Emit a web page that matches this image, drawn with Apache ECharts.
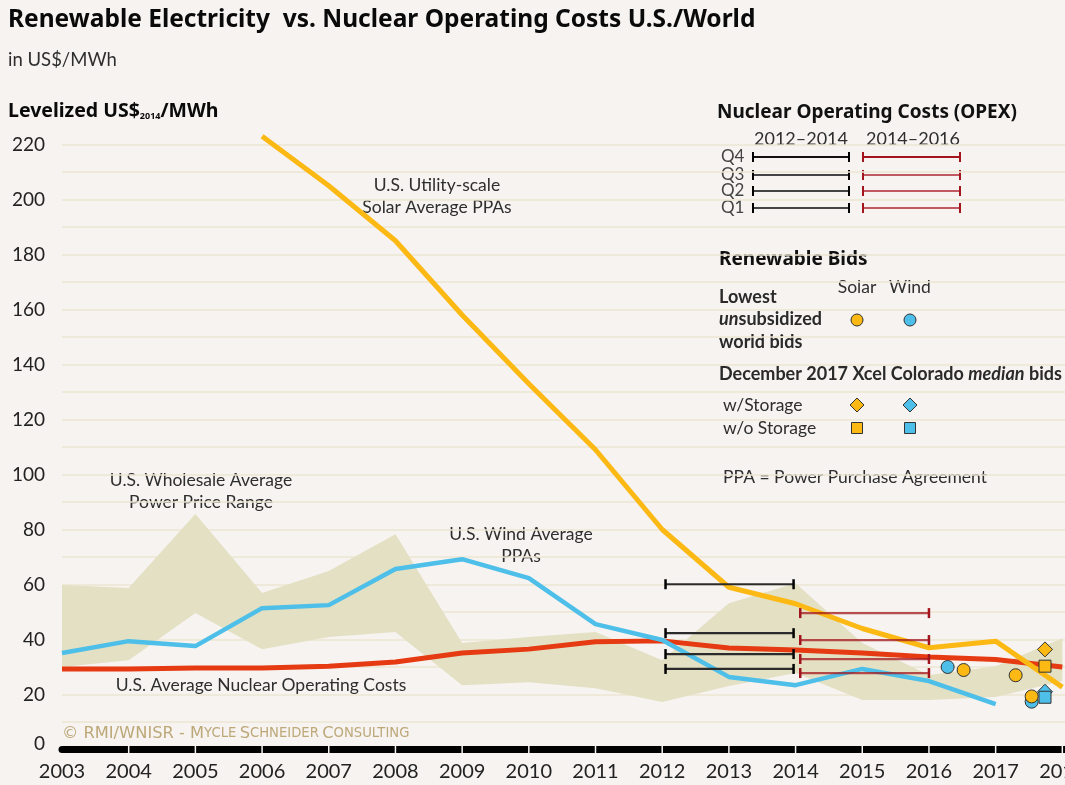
<!DOCTYPE html>
<html>
<head>
<meta charset="utf-8">
<script src="https://cdn.jsdelivr.net/npm/echarts@6/dist/echarts.min.js"></script>
<style>
  html, body { margin: 0; padding: 0; background: #f6f3f1; }
  #chart { width: 1065px; height: 785px; }
</style>
</head>
<body>
<div id="chart"></div>
<script>
// ---- data (US$2014 / MWh) ----
const years = [2003, 2004, 2005, 2006, 2007, 2008, 2009, 2010, 2011, 2012, 2013, 2014, 2015, 2016, 2017, 2018];
const solarPPA      = [null, null, null, 223, 205, 185, 158, 133, 109, 80, 59, 53, 44, 37, 39.4, 22.7];
const windPPA       = [35.1, 39.4, 37.6, 51.4, 52.5, 65.6, 69.2, 62.3, 45.6, 39.8, 26.4, 23.4, 29.3, 24.9, 16.5, null];
const nuclearCost   = [29.3, 29.3, 29.6, 29.6, 30.3, 31.8, 35.1, 36.5, 39.2, 39.5, 36.9, 36.2, 35.1, 33.6, 32.7, 30.0];
const wholesaleHigh = [59.8, 58.7, 85.6, 56.9, 64.9, 78.3, 38.7, 40.9, 42.7, 32.5, 53.2, 60.5, 38.7, 27.1, 30.3, 40.5];
const wholesaleLow  = [30.0, 32.5, 49.6, 36.5, 40.9, 42.7, 23.4, 24.5, 22.3, 17.3, 23.1, 27.8, 18.0, 18.0, 19.1, 24.9];

// nuclear OPEX by quartile, for two periods
const opexQuartiles = ['Q4', 'Q3', 'Q2', 'Q1'];
const opexPeriods = ['2012\u20132014', '2014\u20132016'];
const opexSpan = [[2012.05, 2013.97], [2014.07, 2016.0]];
const opex2012to2014 = [60.1, 42.3, 34.7, 29.3];
const opex2014to2016 = [49.6, 39.8, 32.9, 27.8];

// renewable bids
const solarLowestBids = [[2016.52, 28.9], [2017.30, 27.0], [2017.54, 19.3]];
const windLowestBids  = [[2016.28, 30.0], [2017.54, 17.4]];
const xcelSolarStorage   = [[2017.74, 36.4]];
const xcelSolarNoStorage = [[2017.74, 30.3]];
const xcelWindStorage    = [[2017.74, 21.0]];
const xcelWindNoStorage  = [[2017.74, 19.0]];

const yMax = 220, yStep = 10, yLabelStep = 20;

// ---- styling ----
const FONT = 'Lato';
const HEAD = 'Noto Sans';
const SOLAR = '#fcb813';
const WIND = '#4dbfe8';
const NUCLEAR = '#e63a12';
const RANGE = '#e3e0c3';
const GRIDLINE = '#ece6d2';
const TEXT = '#2e2e2e';

const chart = echarts.init(document.getElementById('chart'), null, { renderer: 'canvas' });

function pairs(vals) { return years.map((y, i) => [y, vals[i]]); }

const opexData = [];
[opex2012to2014, opex2014to2016].forEach((vals, p) => {
  vals.forEach((v, q) => opexData.push([opexSpan[p][0], opexSpan[p][1], v, p, q]));
});

function diamond(cx, cy, r) {
  return [[cx, cy - r], [cx + r, cy], [cx, cy + r], [cx - r, cy]];
}

const txt = (x, y, text, extra) => ({
  type: 'text', x: x, y: y, silent: true,
  style: Object.assign({ text: text, fontFamily: FONT, fontSize: 17.5, fill: TEXT, align: 'left', verticalAlign: 'middle' }, extra || {})
});

const MED = { fontFamily: FONT, fontSize: 18, fontWeight: 'bold', fill: '#2a2a2a' };

const legendGraphics = [
  txt(717, 113, 'Nuclear Operating Costs (OPEX)', { fontFamily: HEAD, fontWeight: 'bold', fontSize: 19, fill: '#111' }),
  txt(801, 139, opexPeriods[0], { align: 'center', fontSize: 18 }),
  txt(913, 139, opexPeriods[1], { align: 'center', fontSize: 18 }),
  txt(719, 260, 'Renewable Bids', { fontFamily: HEAD, fontWeight: 'bold', fontSize: 19, fill: '#111' }),
  txt(857, 287, 'Solar', { align: 'center' }),
  txt(910, 287, 'Wind', { align: 'center' }),
  txt(719, 297, 'Lowest', MED),
  {
    type: 'text', x: 719, y: 319, silent: true,
    style: {
      text: '{i|un}{b|subsidized}', verticalAlign: 'middle', align: 'left',
      rich: { i: Object.assign({}, MED, { fontStyle: 'italic' }), b: MED }
    }
  },
  txt(719, 342, 'world bids', MED),
  {
    type: 'text', x: 719, y: 374, silent: true,
    style: {
      text: '{b|December 2017 Xcel Colorado }{i|median}{b| bids}', verticalAlign: 'middle', align: 'left',
      rich: { i: Object.assign({}, MED, { fontStyle: 'italic' }), b: MED }
    }
  },
  txt(723, 405, 'w/Storage'),
  txt(723, 428, 'w/o Storage'),
  txt(723, 477, 'PPA = Power Purchase Agreement'),
  { type: 'circle', silent: true, shape: { cx: 857, cy: 320, r: 6 }, style: { fill: SOLAR, stroke: '#333', lineWidth: 1 } },
  { type: 'circle', silent: true, shape: { cx: 910, cy: 320, r: 6 }, style: { fill: WIND, stroke: '#333', lineWidth: 1 } },
  { type: 'polygon', silent: true, shape: { points: diamond(857, 405, 7) }, style: { fill: SOLAR, stroke: '#333', lineWidth: 1 } },
  { type: 'polygon', silent: true, shape: { points: diamond(910, 405, 7) }, style: { fill: WIND, stroke: '#333', lineWidth: 1 } },
  { type: 'rect', silent: true, shape: { x: 851.5, y: 422.5, width: 11, height: 11 }, style: { fill: SOLAR, stroke: '#333', lineWidth: 1 } },
  { type: 'rect', silent: true, shape: { x: 904.5, y: 422.5, width: 11, height: 11 }, style: { fill: WIND, stroke: '#333', lineWidth: 1 } }
];

// OPEX legend rows
const legendRowY = [157, 175, 191, 208];
opexQuartiles.forEach((q, i) => {
  const y = legendRowY[i];
  legendGraphics.push(txt(721, y, q, { fontSize: 17, fill: '#444' }));
  const blk = i === 0 ? '#111' : '#444';
  const red = i === 0 ? '#a3151d' : '#c05a62';
  legendGraphics.push({ type: 'line', silent: true, shape: { x1: 753, y1: y, x2: 849, y2: y }, style: { stroke: blk, lineWidth: 2 } });
  legendGraphics.push({ type: 'line', silent: true, shape: { x1: 753, y1: y - 5, x2: 753, y2: y + 5 }, style: { stroke: '#000', lineWidth: 2 } });
  legendGraphics.push({ type: 'line', silent: true, shape: { x1: 849, y1: y - 5, x2: 849, y2: y + 5 }, style: { stroke: '#000', lineWidth: 2 } });
  legendGraphics.push({ type: 'line', silent: true, shape: { x1: 863, y1: y, x2: 960, y2: y }, style: { stroke: red, lineWidth: 2 } });
  legendGraphics.push({ type: 'line', silent: true, shape: { x1: 863, y1: y - 5, x2: 863, y2: y + 5 }, style: { stroke: '#a3151d', lineWidth: 2 } });
  legendGraphics.push({ type: 'line', silent: true, shape: { x1: 960, y1: y - 5, x2: 960, y2: y + 5 }, style: { stroke: '#a3151d', lineWidth: 2 } });
});

const headerGraphics = [
  txt(8, 20, 'Renewable Electricity  vs. Nuclear Operating Costs U.S./World', { fontFamily: HEAD, fontWeight: 'bold', fontSize: 24.5, fill: '#0a0a0a' }),
  txt(8, 60, 'in US$/MWh', { fontSize: 18.5 }),
  {
    type: 'text', x: 8, y: 111, silent: true,
    style: {
      text: '{b|Levelized US$}{s|2014}{b|/MWh}', verticalAlign: 'middle', align: 'left',
      rich: {
        b: { fontFamily: HEAD, fontSize: 19.5, fontWeight: 'bold', fill: '#0a0a0a' },
        s: { fontFamily: HEAD, fontSize: 9, fontWeight: 'bold', fill: '#0a0a0a', verticalAlign: 'bottom', padding: [10, 0, 0, 0] }
      }
    }
  },
  // series annotations
  txt(437, 185, 'U.S. Utility-scale', { align: 'center' }),
  txt(437, 207, 'Solar Average PPAs', { align: 'center' }),
  txt(201, 480, 'U.S. Wholesale Average', { align: 'center' }),
  txt(201, 502, 'Power Price Range', { align: 'center' }),
  txt(521, 534, 'U.S. Wind Average', { align: 'center' }),
  txt(521, 556, 'PPAs', { align: 'center' }),
  txt(261, 685, 'U.S. Average Nuclear Operating Costs', { align: 'center' }),
  {
    type: 'text', x: 62, y: 734, silent: true,
    style: {
      text: '{c|\u00a9 RMI/WNISR - M}{s|YCLE} {c|S}{s|CHNEIDER} {c|C}{s|ONSULTING}', verticalAlign: 'middle', align: 'left',
      rich: {
        c: { fontFamily: 'DejaVu Sans', fontSize: 16.3, fill: '#bda878' },
        s: { fontFamily: 'DejaVu Sans', fontSize: 13.2, fill: '#bda878' }
      }
    }
  }
];

const option = {
  backgroundColor: '#f6f3f1',
  animation: false,
  textStyle: { fontFamily: FONT },
  grid: { left: 62, right: 0, top: 144.5, bottom: 35.5, containLabel: false, outerBoundsMode: 'none' },
  xAxis: {
    type: 'value', min: 2003, max: 2018.04, interval: 1,
    axisLine: { show: true, lineStyle: { color: '#000', width: 7, cap: 'round' } },
    axisTick: { show: false },
    splitLine: { show: false },
    axisLabel: {
      margin: 12, fontSize: 20, color: '#222', fontFamily: FONT,
      formatter: v => (Number.isInteger(v) ? String(v) : '')
    }
  },
  yAxis: {
    type: 'value', min: 0, max: yMax, interval: yStep,
    axisLine: { show: false }, axisTick: { show: false },
    splitLine: { show: true, lineStyle: { color: GRIDLINE, width: 1.5 } },
    axisLabel: {
      margin: 17, fontSize: 19, color: '#222', fontFamily: FONT,
      formatter: v => (v === 0 ? '{z|0}' : (v % yLabelStep === 0 ? String(v) : '')),
      rich: { z: { fontSize: 19, color: '#222', fontFamily: FONT, padding: [0, 0, 12, 0] } }
    }
  },
  graphic: headerGraphics.concat(legendGraphics),
  series: [
    {
      name: 'U.S. Wholesale Average Power Price Range',
      type: 'custom', z: 1, silent: true,
      encode: { x: 0, y: [1, 2] },
      data: years.map((y, i) => [y, wholesaleLow[i], wholesaleHigh[i]]),
      renderItem: (params, api) => {
        if (params.dataIndex !== 0) return null;
        const top = years.map((y, i) => api.coord([y, wholesaleHigh[i]]));
        const bot = years.map((y, i) => api.coord([y, wholesaleLow[i]])).reverse();
        return { type: 'polygon', shape: { points: top.concat(bot) }, style: { fill: RANGE } };
      }
    },
    {
      name: 'U.S. Average Nuclear Operating Costs', type: 'line', z: 3,
      data: pairs(nuclearCost), showSymbol: false, symbol: 'none',
      lineStyle: { color: NUCLEAR, width: 5 }
    },
    {
      name: 'U.S. Wind Average PPAs', type: 'line', z: 4,
      data: pairs(windPPA), showSymbol: false, symbol: 'none',
      lineStyle: { color: WIND, width: 4.5 }
    },
    {
      name: 'U.S. Utility-scale Solar Average PPAs', type: 'line', z: 5, clip: false,
      data: pairs(solarPPA), showSymbol: false, symbol: 'none',
      lineStyle: { color: SOLAR, width: 5 }
    },
    {
      name: 'Nuclear OPEX', type: 'custom', z: 6, silent: true,
      encode: { x: [0, 1], y: 2 },
      data: opexData,
      renderItem: (params, api) => {
        const a = api.coord([api.value(0), api.value(2)]);
        const b = api.coord([api.value(1), api.value(2)]);
        const p = api.value(3);
        const stroke = p === 0 ? '#2b2b2b' : 'rgba(163,21,29,0.75)';
        const cap = p === 0 ? '#000' : '#a3151d';
        return {
          type: 'group', children: [
            { type: 'line', shape: { x1: a[0], y1: a[1], x2: b[0], y2: b[1] }, style: { stroke: stroke, lineWidth: 2.2 } },
            { type: 'line', shape: { x1: a[0], y1: a[1] - 5, x2: a[0], y2: a[1] + 5 }, style: { stroke: cap, lineWidth: 2.5 } },
            { type: 'line', shape: { x1: b[0], y1: b[1] - 5, x2: b[0], y2: b[1] + 5 }, style: { stroke: cap, lineWidth: 2.5 } }
          ]
        };
      }
    },
    {
      name: 'axis year separators', type: 'custom', z: 7, silent: true, clip: false,
      encode: { x: 0 },
      data: years.slice(1).map(y => [y]),
      renderItem: (params, api) => {
        const c = api.coord([api.value(0), 0]);
        return { type: 'line', shape: { x1: c[0], y1: c[1] - 4, x2: c[0], y2: c[1] + 4 }, style: { stroke: '#f6f3f1', lineWidth: 1.5 } };
      }
    },
    {
      name: 'Wind lowest bids', type: 'scatter', z: 8, data: windLowestBids,
      symbol: 'circle', symbolSize: 13, itemStyle: { color: WIND, borderColor: '#333', borderWidth: 1, opacity: 1 }
    },
    {
      name: 'Solar lowest bids', type: 'scatter', z: 9, data: solarLowestBids,
      symbol: 'circle', symbolSize: 13, itemStyle: { color: SOLAR, borderColor: '#333', borderWidth: 1, opacity: 1 }
    },
    {
      name: 'Xcel wind w/Storage', type: 'scatter', z: 9, data: xcelWindStorage,
      symbol: 'diamond', symbolSize: 15, itemStyle: { color: WIND, borderColor: '#333', borderWidth: 1, opacity: 1 }
    },
    {
      name: 'Xcel wind w/o Storage', type: 'scatter', z: 10, data: xcelWindNoStorage,
      symbol: 'rect', symbolSize: 12, itemStyle: { color: WIND, borderColor: '#333', borderWidth: 1, opacity: 1 }
    },
    {
      name: 'Xcel solar w/o Storage', type: 'scatter', z: 10, data: xcelSolarNoStorage,
      symbol: 'rect', symbolSize: 12, itemStyle: { color: SOLAR, borderColor: '#333', borderWidth: 1, opacity: 1 }
    },
    {
      name: 'Xcel solar w/Storage', type: 'scatter', z: 10, data: xcelSolarStorage,
      symbol: 'diamond', symbolSize: 15, itemStyle: { color: SOLAR, borderColor: '#333', borderWidth: 1, opacity: 1 }
    }
  ]
};

chart.setOption(option);
</script>
</body>
</html>
